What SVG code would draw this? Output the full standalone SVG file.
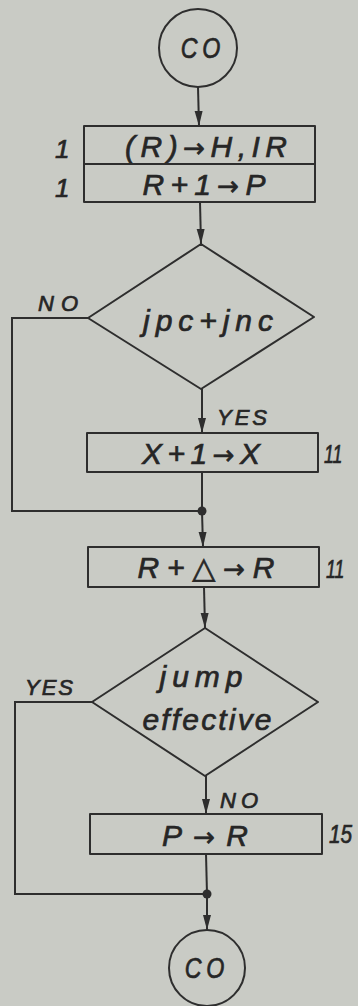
<svg xmlns="http://www.w3.org/2000/svg" width="358" height="1006" viewBox="0 0 358 1006">
  <defs>
    <marker id="arrow" markerUnits="userSpaceOnUse" markerWidth="16" markerHeight="9" refX="15" refY="4" orient="auto">
      <path d="M0,0 L15,4 L0,8 Z" fill="#2e2e2e"/>
    </marker>
    <style>
      .shape { fill: none; stroke: #2e2e2e; stroke-width: 2; stroke-linejoin: round; }
      .wire { fill: none; stroke: #2e2e2e; stroke-width: 2; }
      .arrow { marker-end: url(#arrow); }
      .dot { fill: #2e2e2e; }
      .t { font-family: "Liberation Sans", "DejaVu Sans", sans-serif; font-style: italic; fill: #262626; stroke: #262626; stroke-width: 0.7; }
      .big { font-size: 30px; text-anchor: middle; }
      .co { font-size: 29px; text-anchor: middle; letter-spacing: 6px; }
      .lbl { font-size: 22px; }
      .num { font-size: 26px; }
      .ar { font-family: "DejaVu Sans", sans-serif; font-style: normal; font-size: 26px; }
    </style>
  </defs>
  <rect width="358" height="1006" fill="#c9cbc5"/>

  <!-- connectors -->
  <g id="connectors">
    <line class="wire arrow" x1="198" y1="87" x2="199" y2="126"/>
    <line class="wire arrow" x1="200" y1="202" x2="201" y2="244"/>
    <line class="wire arrow" x1="202" y1="389" x2="202" y2="433"/>
    <line class="wire" x1="202" y1="472" x2="202" y2="511"/>
    <polyline class="wire" points="88,318 12,318 12,511 202,511"/>
    <circle class="dot" cx="202" cy="511" r="4.5"/>
    <line class="wire arrow" x1="202" y1="511" x2="203" y2="547"/>
    <line class="wire arrow" x1="204" y1="587" x2="205" y2="628"/>
    <line class="wire arrow" x1="206" y1="776" x2="206" y2="814"/>
    <line class="wire" x1="206" y1="854" x2="207" y2="894"/>
    <polyline class="wire" points="92,702 15,702 15,894 207,894"/>
    <circle class="dot" cx="207" cy="894" r="4.5"/>
    <line class="wire arrow" x1="207" y1="894" x2="207" y2="930"/>
    <text class="t lbl" x="38" y="311" textLength="40">NO</text>
    <text class="t lbl" x="217" y="425" textLength="50">YES</text>
    <text class="t lbl" x="25" y="695" textLength="48">YES</text>
    <text class="t lbl" x="220" y="808" textLength="38">NO</text>
  </g>

  <!-- entry connector -->
  <g id="start">
    <circle class="shape" cx="198" cy="48" r="39"/>
    <text class="t co" transform="translate(203,58) scale(0.8,1)">CO</text>
  </g>

  <!-- fetch: two micro-operations -->
  <g id="fetch">
    <rect class="shape" x="84" y="126" width="231" height="76"/>
    <line class="shape" x1="84" y1="164" x2="315" y2="164"/>
    <text class="t big" x="206" y="157" textLength="162">(R)<tspan class="ar">→</tspan>H,IR</text>
    <text class="t big" x="204" y="195" textLength="123">R+1<tspan class="ar">→</tspan>P</text>
    <text class="t num" x="55" y="158">1</text>
    <text class="t num" x="55" y="197">1</text>
  </g>

  <g id="test-jpc-jnc">
    <polygon class="shape" points="201,244 314,317 201,389 88,318"/>
    <text class="t big" x="208" y="331" textLength="130">jpc+jnc</text>
  </g>

  <g id="inc-x">
    <rect class="shape" x="87" y="433" width="231" height="39"/>
    <text class="t big" x="201" y="464" textLength="118">X+1<tspan class="ar">→</tspan>X</text>
    <text class="t num" transform="translate(324,463) scale(0.68,1)">11</text>
  </g>

  <g id="add-delta">
    <rect class="shape" x="88" y="547" width="231" height="40"/>
    <text class="t big" x="206" y="578" textLength="137">R+△<tspan class="ar">→</tspan>R</text>
    <text class="t num" transform="translate(326,578) scale(0.68,1)">11</text>
  </g>

  <g id="test-jump">
    <polygon class="shape" points="205,628 318,702 205,776 92,702"/>
    <text class="t big" x="201" y="687" textLength="83">jump</text>
    <text class="t big" x="207" y="730" textLength="129">effective</text>
  </g>

  <g id="restore-r">
    <rect class="shape" x="90" y="814" width="232" height="40"/>
    <text class="t big" x="205" y="846" textLength="86">P<tspan class="ar">→</tspan>R</text>
    <text class="t num" transform="translate(329,843) scale(0.8,1)">15</text>
  </g>

  <g id="end">
    <circle class="shape" cx="207" cy="968" r="38"/>
    <text class="t co" transform="translate(207,978) scale(0.8,1)">CO</text>
  </g>
</svg>
